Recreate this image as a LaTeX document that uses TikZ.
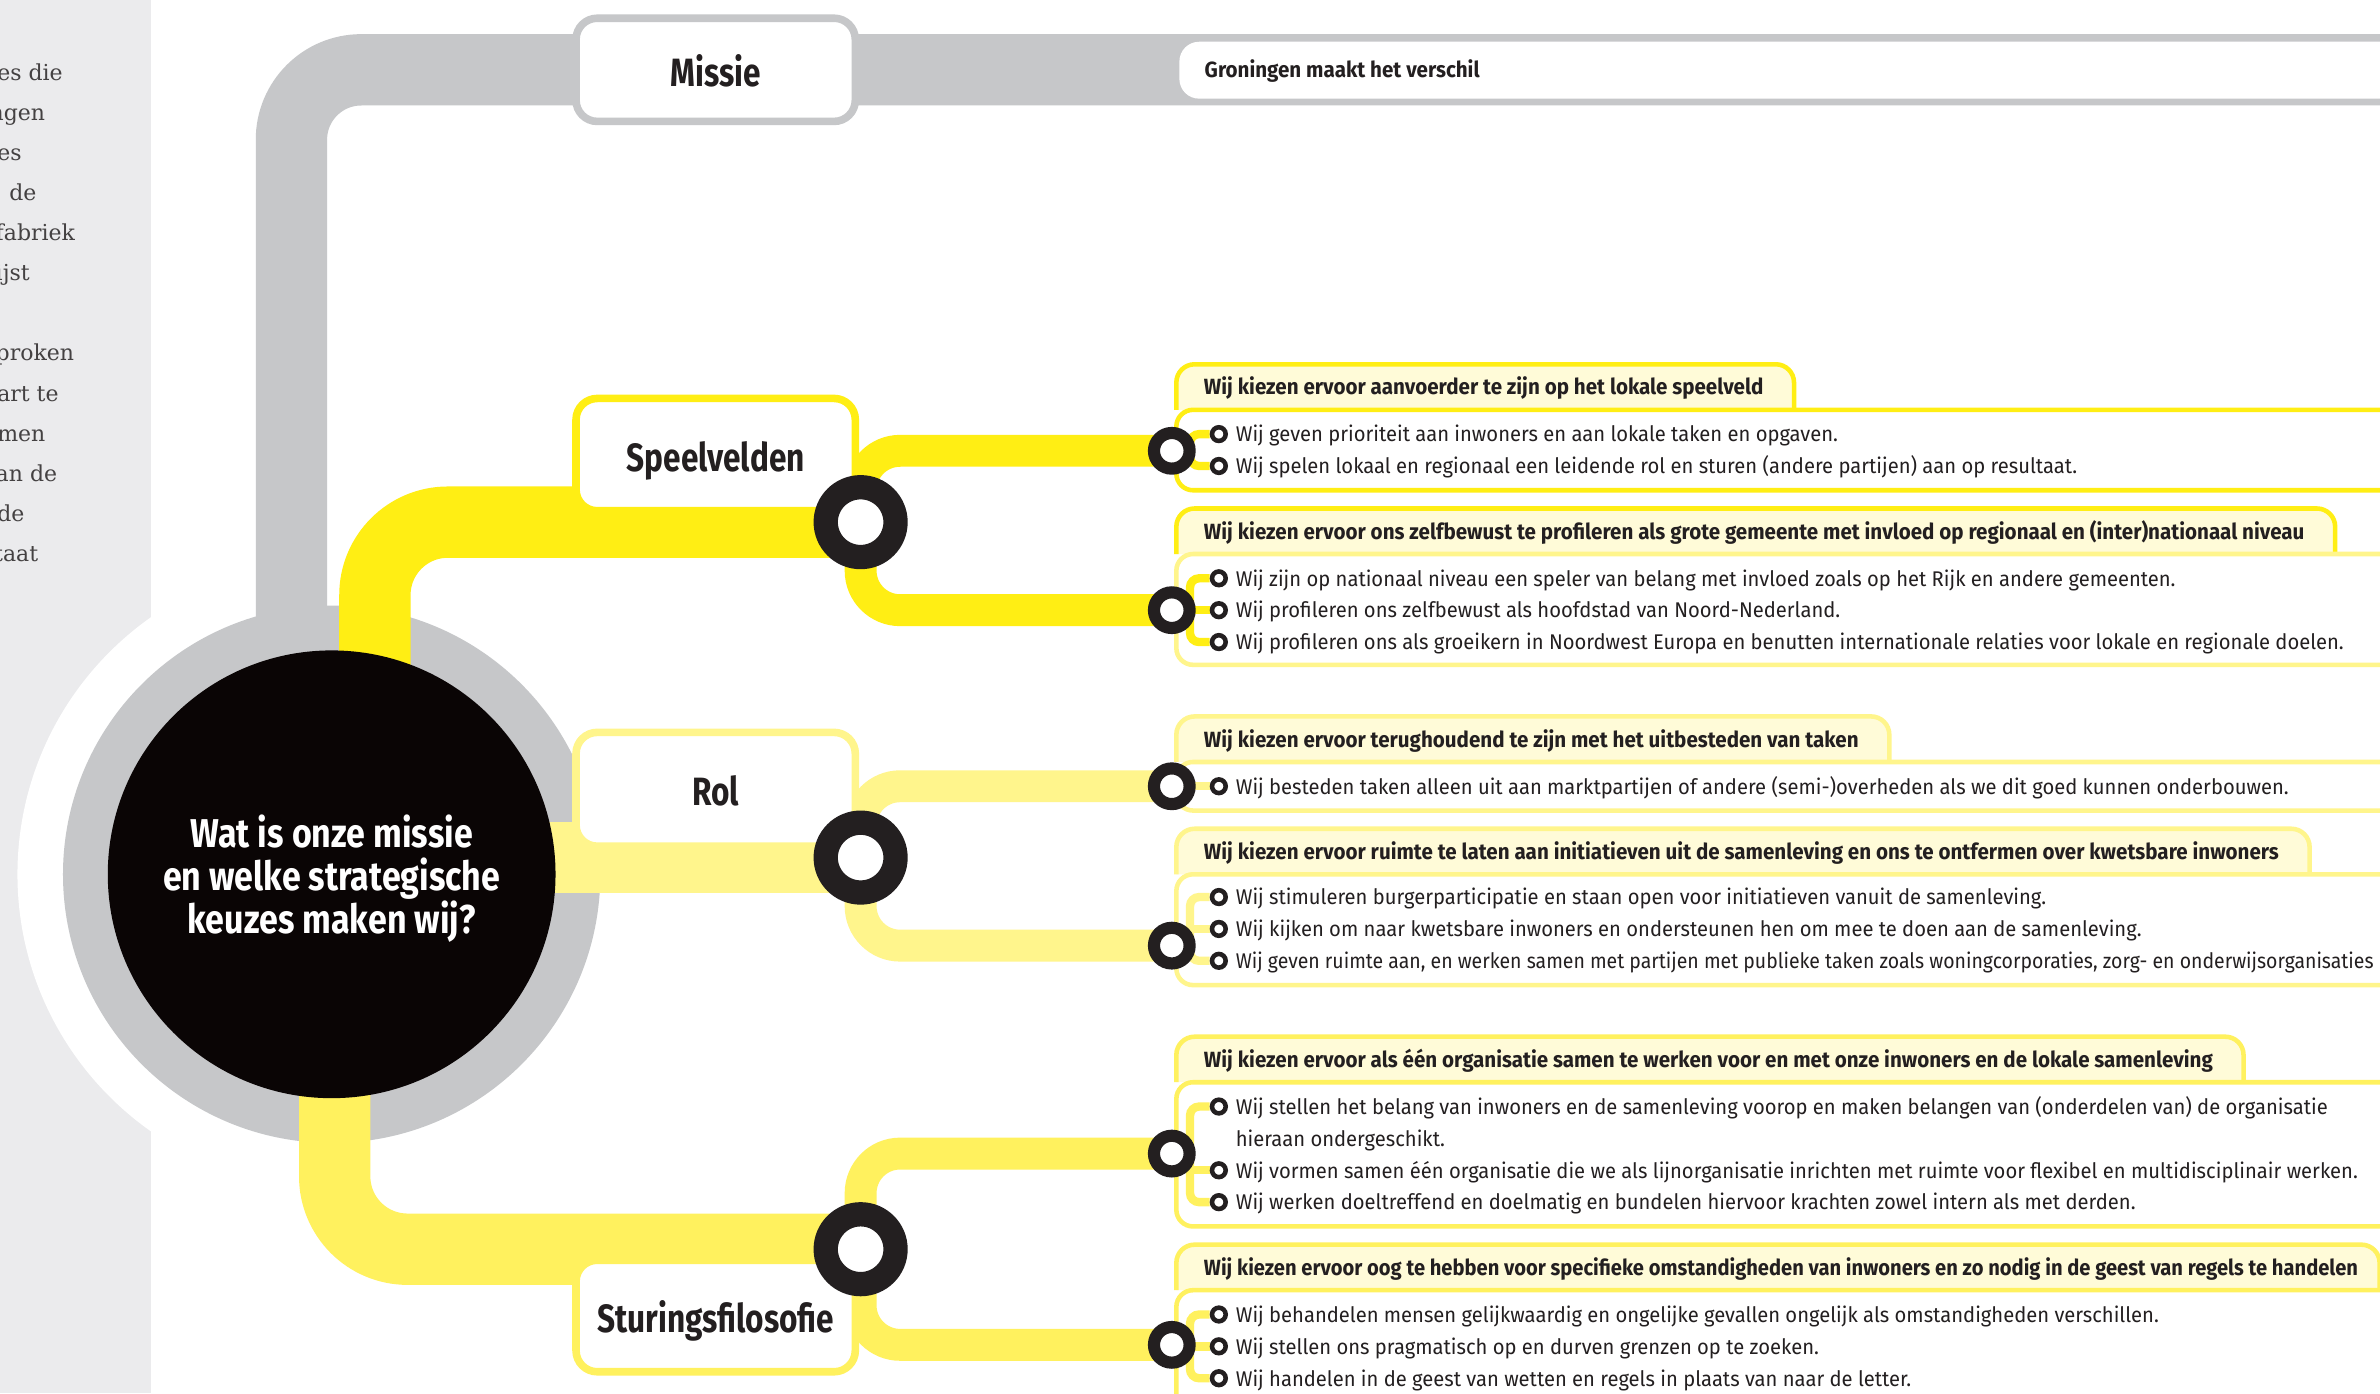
\documentclass[tikz,border=0pt]{standalone}
\usepackage{fontspec}
\setmainfont{Fira Sans}
\newfontfamily\titlesans{Fira Sans}[FakeStretch=0.845]
\newfontfamily\catsans{Fira Sans}[FakeStretch=0.80]
\newfontfamily\headsans{Fira Sans}[FakeStretch=0.935]
\newfontfamily\headsanstight{Fira Sans}[FakeStretch=0.915]
\newfontfamily\itemsans{Fira Sans}[FakeStretch=0.95]
\newfontfamily\itemsanstight{Fira Sans}[FakeStretch=0.915]
\newfontfamily\panelserif{DejaVu Serif}
\usetikzlibrary{calc}

\definecolor{panelgrey}{HTML}{EBEBED}
\definecolor{linegrey}{HTML}{C6C7C9}
\definecolor{coreblack}{HTML}{0A0505}
\definecolor{ringblack}{HTML}{231F20}
\definecolor{ink}{HTML}{231F20}
\definecolor{ybright}{HTML}{FFEE14}
\definecolor{ypale}{HTML}{FFF58C}
\definecolor{ymid}{HTML}{FFF15E}
\definecolor{cream}{HTML}{FFFBD8}

\pgfdeclarelayer{under}
\pgfdeclarelayer{links}
\pgfdeclarelayer{panes}
\pgfsetlayers{under,links,panes,main}

\begin{document}
\begin{tikzpicture}[x=1pt, y=-1pt,
  trunk/.style={line width=47pt},
  branch/.style={line width=21pt, rounded corners=26pt},
  twig/.style={line width=5.5pt, rounded corners=6pt},
  core/.style={circle, fill=coreblack, minimum size=295pt, inner sep=0pt},
  question/.style={align=center, text=white, inner sep=0pt,
    font=\titlesans\bfseries\fontsize{26.5}{28.5}\selectfont},
  catbox/.style={draw, line width=5pt, fill=white, rounded corners=14pt,
    minimum width=184pt, text height=22pt, text depth=0pt, inner sep=0pt, text=ink,
    font=\catsans\bfseries\fontsize{26}{30}\selectfont},
  bigring/.style={circle, draw=ringblack, line width=16pt, fill=white, minimum size=46pt, inner sep=0pt},
  smallring/.style={circle, draw=ringblack, line width=8pt, fill=white, minimum size=23.5pt, inner sep=0pt},
  bullet/.style={circle, draw=ringblack, line width=3pt, fill=white, minimum size=9pt, inner sep=0pt},
  head/.style={anchor=mid west, inner sep=0pt, text=ink, yshift=-2.5pt,
    font=\headsans\bfseries\fontsize{14.5}{17}\selectfont},
  item/.style={anchor=mid west, inner sep=0pt, text=ink, yshift=-2.5pt,
    font=\itemsans\fontsize{14}{21}\selectfont},
  paneltext/.style={anchor=base west, inner sep=0pt, text=ink!85,
    font=\panelserif\fontsize{14.5}{18}\selectfont},
  tabline/.style={line width=3pt, fill=cream, rounded corners=12pt},
  bodyline/.style={line width=3pt, rounded corners=11pt},
]
\useasboundingbox (0,0) rectangle (1568,918);

% ---------- centre and category boxes ----------
\node[core] (core) at (218.5,576) {};
\node[question] (questiontext) at (218.5,579) {Wat is onze missie\\en welke strategische\\keuzes maken wij?};

\node[catbox, draw=linegrey, minimum height=68pt] (missie) at (471.5,46) {Missie};
\node[catbox, draw=ybright, minimum height=74pt] (speel) at (471.5,299.5) {Speelvelden};
\node[catbox, draw=ypale, minimum height=75pt] (rol) at (471.5,520) {Rol};
\node[catbox, draw=ymid, minimum height=73.5pt] (sturing) at (471.5,867) {Sturingsfilosofie};

% mission statement strip
\coordinate (greyend) at (1600,46);
\fill[white, rounded corners=13pt] (1600,27.5) -- (777,27.5) -- (777,65) -- (1600,65) -- cycle;
\node[head] (motto) at (793.5,46) {Groningen maakt het verschil};

% ---------- Speelvelden ----------
\node[head] (hS1) at (793,255) {Wij kiezen ervoor aanvoerder te zijn op het lokale speelveld};
\node[bullet] (bS1a) at (803,286) {};
\node[item] (tS1a) at (814,286) {Wij geven prioriteit aan inwoners en aan lokale taken en opgaven.};
\node[bullet] (bS1b) at (803,307) {};
\node[item] (tS1b) at (814,307) {Wij spelen lokaal en regionaal een leidende rol en sturen (andere partijen) aan op resultaat.};

\node[head] (hS2) at (793,350) {Wij kiezen ervoor ons zelfbewust te profileren als grote gemeente met invloed op regionaal en (inter)nationaal niveau};
\node[bullet] (bS2a) at (803,381) {};
\node[item] (tS2a) at (814,381) {Wij zijn op nationaal niveau een speler van belang met invloed zoals op het Rijk en andere gemeenten.};
\node[bullet] (bS2b) at (803,402) {};
\node[item] (tS2b) at (814,402) {Wij profileren ons zelfbewust als hoofdstad van Noord-Nederland.};
\node[bullet] (bS2c) at (803,423) {};
\node[item] (tS2c) at (814,423) {Wij profileren ons als groeikern in Noordwest Europa en benutten internationale relaties voor lokale en regionale doelen.};

% ---------- Rol ----------
\node[head] (hR1) at (793,487) {Wij kiezen ervoor terughoudend te zijn met het uitbesteden van taken};
\node[bullet] (bR1a) at (803,518) {};
\node[item] (tR1a) at (814,518) {Wij besteden taken alleen uit aan marktpartijen of andere (semi-)overheden als we dit goed kunnen onderbouwen.};

\node[head] (hR2) at (793,561) {Wij kiezen ervoor ruimte te laten aan initiatieven uit de samenleving en ons te ontfermen over kwetsbare inwoners};
\node[bullet] (bR2a) at (803,591) {};
\node[item] (tR2a) at (814,591) {Wij stimuleren burgerparticipatie en staan open voor initiatieven vanuit de samenleving.};
\node[bullet] (bR2b) at (803,612) {};
\node[item] (tR2b) at (814,612) {Wij kijken om naar kwetsbare inwoners en ondersteunen hen om mee te doen aan de samenleving.};
\node[bullet] (bR2c) at (803,633) {};
\node[item, font=\itemsanstight\fontsize{14}{21}\selectfont] (tR2c) at (814,633) {Wij geven ruimte aan, en werken samen met partijen met publieke taken zoals woningcorporaties, zorg- en onderwijsorganisaties};

% ---------- Sturingsfilosofie ----------
\node[head] (hT1) at (793,698) {Wij kiezen ervoor als één organisatie samen te werken voor en met onze inwoners en de lokale samenleving};
\node[bullet] (bT1a) at (803,729) {};
\node[item] (tT1a) at (814,729) {Wij stellen het belang van inwoners en de samenleving voorop en maken belangen van (onderdelen van) de organisatie};
\node[item] (tT1a2) at (814,750) {hieraan ondergeschikt.};
\node[bullet] (bT1b) at (803,771) {};
\node[item] (tT1b) at (814,771) {Wij vormen samen één organisatie die we als lijnorganisatie inrichten met ruimte voor flexibel en multidisciplinair werken.};
\node[bullet] (bT1c) at (803,792) {};
\node[item] (tT1c) at (814,792) {Wij werken doeltreffend en doelmatig en bundelen hiervoor krachten zowel intern als met derden.};

\node[head, font=\headsanstight\bfseries\fontsize{14.5}{17}\selectfont] (hT2) at (793,835) {Wij kiezen ervoor oog te hebben voor specifieke omstandigheden van inwoners en zo nodig in de geest van regels te handelen};
\node[bullet] (bT2a) at (803,866) {};
\node[item] (tT2a) at (814,866) {Wij behandelen mensen gelijkwaardig en ongelijke gevallen ongelijk als omstandigheden verschillen.};
\node[bullet] (bT2b) at (803,887) {};
\node[item] (tT2b) at (814,887) {Wij stellen ons pragmatisch op en durven grenzen op te zoeken.};
\node[bullet] (bT2c) at (803,908) {};
\node[item] (tT2c) at (814,908) {Wij handelen in de geest van wetten en regels in plaats van naar de letter.};

% ---------- rings ----------
\node[smallring] (rS1) at (772,297) {};
\node[smallring] (rS2) at (772,402) {};
\node[smallring] (rR1) at (772,518) {};
\node[smallring] (rR2) at (772,623) {};
\node[smallring] (rT1) at (772,760) {};
\node[smallring] (rT2) at (772,886) {};
\node[bigring] (ringS) at (567,344) {};
\node[bigring] (ringR) at (567,565) {};
\node[bigring] (ringT) at (567,823) {};

% ---------- side panel text ----------
\foreach \yy/\xx/\words [count=\n] in {53/-2/es die, 79.4/-7/ngen, 105.8/-2/es, 132.2/6/de,
    158.6/-3/fabriek, 185/-3/ijst, 237.8/-3/proken, 264.2/-2/art te, 290.6/-2/men,
    317/-3/an de, 343.4/-2/de, 369.8/-4/taat}
  \node[paneltext] (side\n) at (\xx,\yy) {\words};

% ---------- header tabs and item panels ----------
\begin{pgfonlayer}{panes}
  \draw[tabline, draw=ybright] (775,270) |- ($(hS1.mid east)+(20,-17.5)$) -- ($(hS1.mid east)+(20,12.5)$);
  \draw[bodyline, draw=ybright] (1600,270) -- (775,270) -- (775,323) -- (1600,323);
  \draw[tabline, draw=ybright] (775,365) |- ($(hS2.mid east)+(20,-17.5)$) -- ($(hS2.mid east)+(20,12.5)$);
  \draw[bodyline, draw=ypale] (1600,365) -- (775,365) -- (775,438) -- (1600,438);
  \draw[tabline, draw=ypale] (775,502) |- ($(hR1.mid east)+(20,-17.5)$) -- ($(hR1.mid east)+(20,12.5)$);
  \draw[bodyline, draw=ypale] (1600,502) -- (775,502) -- (775,534) -- (1600,534);
  \draw[tabline, draw=ypale] (775,576) |- ($(hR2.mid east)+(20,-17.5)$) -- ($(hR2.mid east)+(20,12.5)$);
  \draw[bodyline, draw=ypale] (1600,576) -- (775,576) -- (775,649) -- (1600,649);
  \draw[tabline, draw=ymid] (775,713) |- ($(hT1.mid east)+(20,-17.5)$) -- ($(hT1.mid east)+(20,12.5)$);
  \draw[bodyline, draw=ymid] (1600,713) -- (775,713) -- (775,808) -- (1600,808);
  \draw[tabline, draw=ymid] (775,850) |- ($(hT2.mid east)+(14,-17.5)$) -- ($(hT2.mid east)+(14,12.5)$);
  \draw[bodyline, draw=ymid] (1600,850) -- (775,850) -- (775,935) -- (1600,935);
\end{pgfonlayer}

% ---------- background, grey trunk and ring ----------
\begin{pgfonlayer}{under}
  \fill[white] (0,0) rectangle (1568,918);
  \fill[panelgrey] (0,0) rectangle (99.5,918);
  \fill[white] (core.center) circle[radius=207pt];
  \draw[trunk, linegrey, rounded corners=46pt] ([xshift=-26.5pt]core.center) |- (missie.center) -- (greyend);
  \fill[linegrey] (core.center) circle[radius=177pt];
\end{pgfonlayer}

% ---------- yellow lines ----------
\begin{pgfonlayer}{links}
  \draw[trunk, ybright, rounded corners=48pt] ([xshift=28.5pt]core.center) |- (ringS.center);
  \draw[trunk, ypale] (core.center |- ringR.center) -- (ringR.center);
  \draw[trunk, ymid, rounded corners=48pt] ([xshift=2pt]core.center) |- (ringT.center);

  \draw[branch, ybright] (ringS.center) |- (rS1.center);
  \draw[branch, ybright] (ringS.center) |- (rS2.center);
  \draw[branch, ypale] (ringR.center) |- (rR1.center);
  \draw[branch, ypale] (ringR.center) |- (rR2.center);
  \draw[branch, ymid] (ringT.center) |- (rT1.center);
  \draw[branch, ymid] (ringT.center) |- (rT2.center);

  \draw[twig, ybright] (bS1a) -| ([xshift=-19pt]bS1b.center) -- (bS1b);
  \draw[twig, ybright] (bS2a) -| ([xshift=-19pt]bS2c.center) -- (bS2c);
  \draw[twig, ybright] ([xshift=-19pt]bS2b.center) -- (bS2b);
  \draw[twig, ypale] (rR1.center) -- (bR1a);
  \draw[twig, ypale] (bR2a) -| ([xshift=-19pt]bR2c.center) -- (bR2c);
  \draw[twig, ypale] ([xshift=-19pt]bR2b.center) -- (bR2b);
  \draw[twig, ymid] (bT1a) -| ([xshift=-19pt]bT1c.center) -- (bT1c);
  \draw[twig, ymid] ([xshift=-19pt]bT1b.center) -- (bT1b);
  \draw[twig, ymid] (bT2a) -| ([xshift=-19pt]bT2c.center) -- (bT2c);
  \draw[twig, ymid] ([xshift=-19pt]bT2b.center) -- (bT2b);
\end{pgfonlayer}
\end{tikzpicture}
\end{document}
